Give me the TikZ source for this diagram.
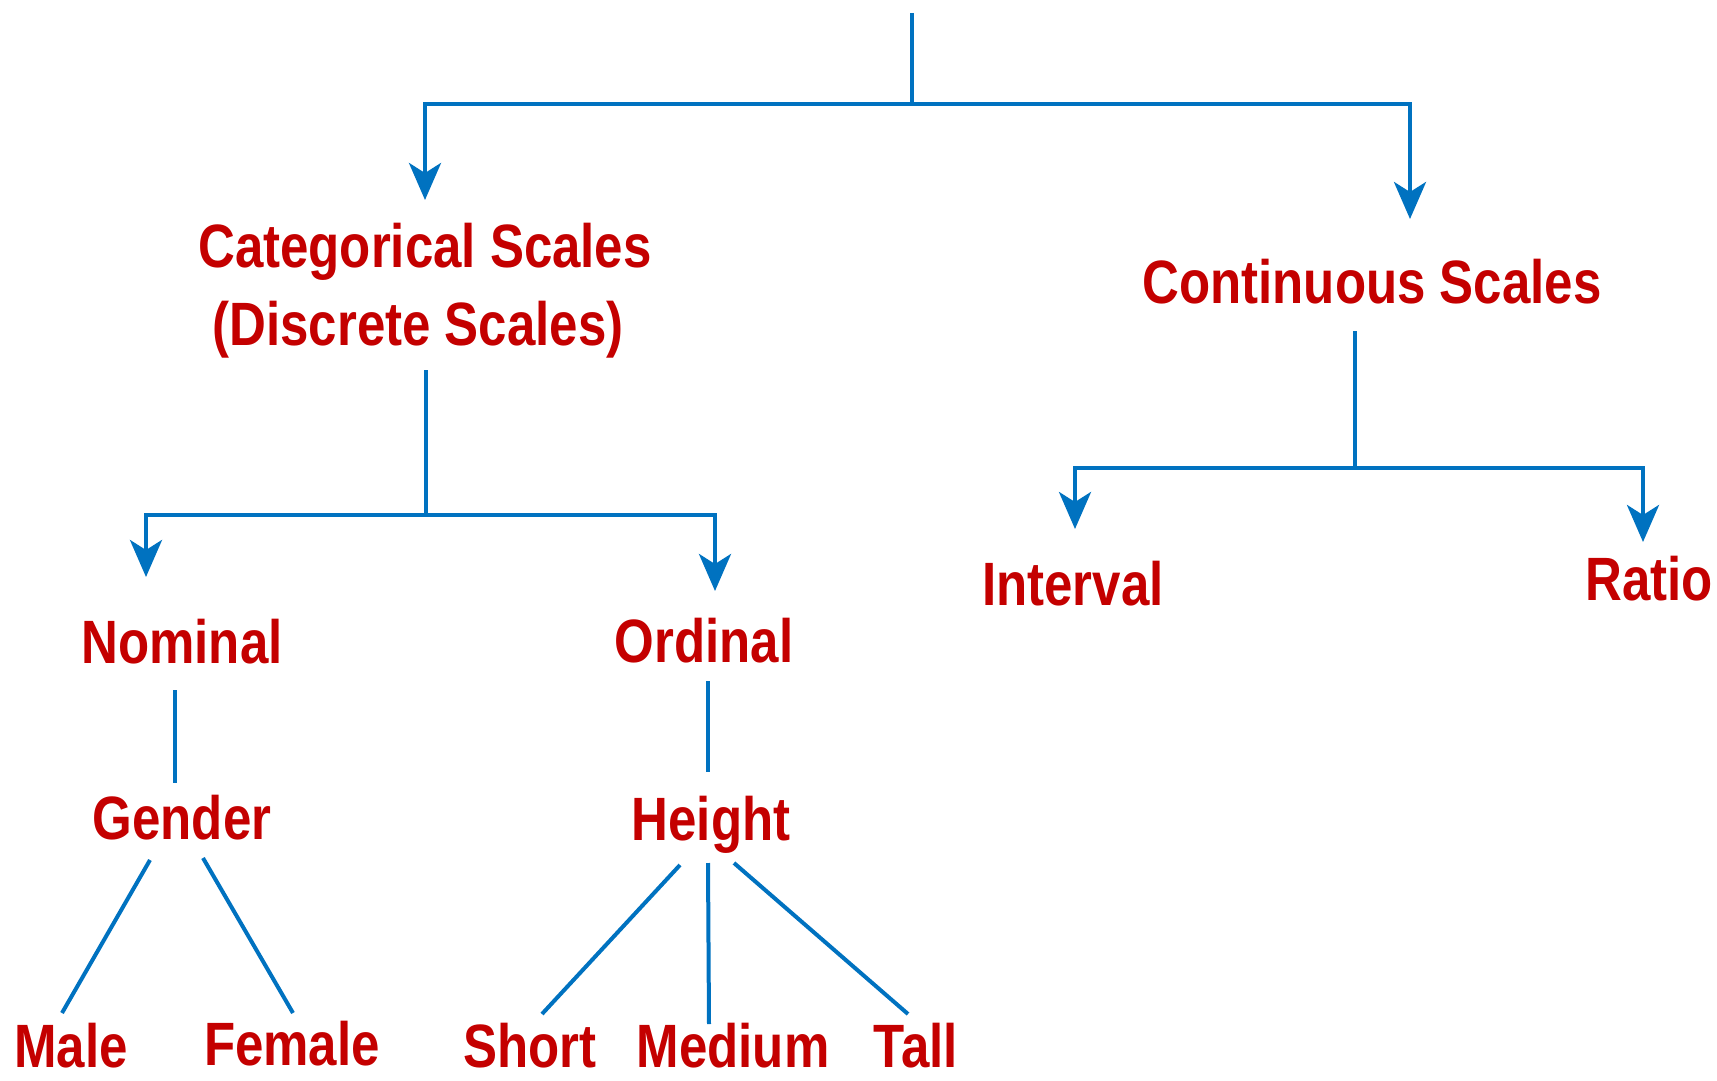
\documentclass[tikz,border=0pt]{standalone}
\usepackage{fontspec}
\setmainfont{Liberation Sans}
\usetikzlibrary{arrows.meta}
\definecolor{lblred}{RGB}{196,0,0}
\definecolor{lnblue}{RGB}{0,114,192}
\newcommand{\stretchy}[1]{\scalebox{1}[1.2]{#1}}
\tikzset{
  lbl/.style={text=lblred, font=\bfseries\fontsize{51}{78}\selectfont, inner sep=0pt, anchor=base},
  conn/.style={draw=lnblue, line width=4pt},
  arr/.style={conn, -{Stealth[length=37pt,width=32pt,inset=10pt]}},
}
\begin{document}
\begin{tikzpicture}[x=1pt,y=-1pt]
\useasboundingbox (0,0) rectangle (1717,1081);
% labels
\node[lbl] (cat1) at (425,267) {\stretchy{Categorical Scales}};
\node[lbl] (cat2) at (418,345) {\stretchy{(Discrete Scales)}};
\node[lbl] (cont) at (1372,303) {\stretchy{Continuous Scales}};
\node[lbl] (nom) at (182,663) {\stretchy{Nominal}};
\node[lbl] (ord) at (704,662) {\stretchy{Ordinal}};
\node[lbl] (int) at (1073,605) {\stretchy{Interval}};
\node[lbl] (rat) at (1649,600) {\stretchy{Ratio}};
\node[lbl] (gen) at (182,839) {\stretchy{Gender}};
\node[lbl] (hei) at (711,840) {\stretchy{Height}};
\node[lbl] (male) at (71,1067) {\stretchy{Male}};
\node[lbl] (fem) at (292,1065) {\stretchy{Female}};
\node[lbl] (sho) at (530,1067) {\stretchy{Short}};
\node[lbl] (med) at (733,1067) {\stretchy{Medium}};
\node[lbl] (tal) at (916,1067) {\stretchy{Tall}};
% connector end points
\coordinate (top) at (912,13);
\coordinate (j0) at (912,104);
\coordinate (catin) at (425,200);
\coordinate (contin) at (1410,219);
\coordinate (catout) at (426,370);
\coordinate (j1) at (426,515);
\coordinate (nomin) at (146,577);
\coordinate (ordin) at (715,591);
\coordinate (contout) at (1355,331);
\coordinate (j2) at (1355,468);
\coordinate (intin) at (1075,529);
\coordinate (ratin) at (1643,542);
\coordinate (nomout) at (175,690);
\coordinate (genin) at (175,783);
\coordinate (ordout) at (708,681);
\coordinate (heiin) at (708,772);
\coordinate (genl) at (150,860);
\coordinate (genr) at (203,858);
\coordinate (malein) at (62,1013);
\coordinate (femin) at (293,1013);
\coordinate (heil) at (680,865);
\coordinate (heim) at (708,863);
\coordinate (heir) at (734,863);
\coordinate (shoin) at (542,1014);
\coordinate (medin) at (709,1024);
\coordinate (talin) at (908,1014);
% connectors
\draw[conn] (top) -- (j0);
\draw[arr] (j0) -| (catin);
\draw[arr] (j0) -| (contin);
\draw[conn] (catout) -- (j1);
\draw[arr] (j1) -| (nomin);
\draw[arr] (j1) -| (ordin);
\draw[conn] (contout) -- (j2);
\draw[arr] (j2) -| (intin);
\draw[arr] (j2) -| (ratin);
\draw[conn] (nomout) -- (genin);
\draw[conn] (ordout) -- (heiin);
\draw[conn] (genl) -- (malein);
\draw[conn] (genr) -- (femin);
\draw[conn] (heil) -- (shoin);
\draw[conn] (heim) -- (medin);
\draw[conn] (heir) -- (talin);
\end{tikzpicture}
\end{document}
